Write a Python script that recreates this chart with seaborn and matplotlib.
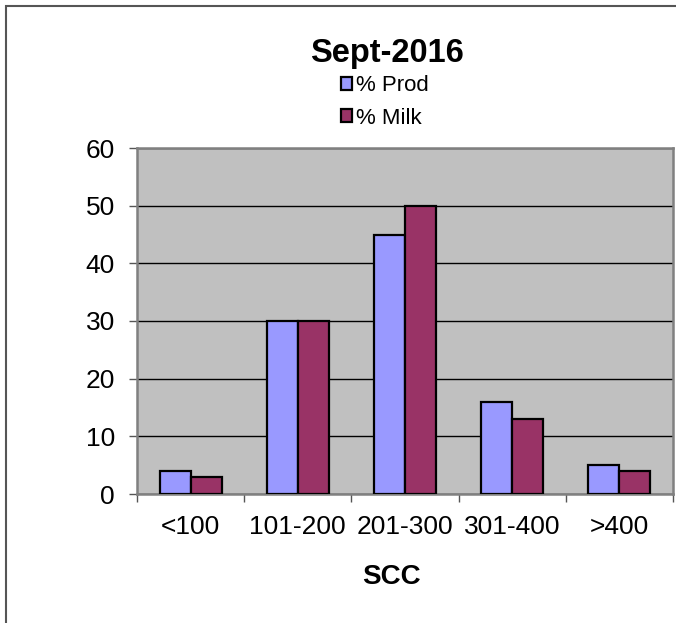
import pandas as pd
import matplotlib
matplotlib.use('Agg')
import matplotlib.pyplot as plt
from matplotlib.patches import Rectangle
from matplotlib.ticker import FixedLocator
import seaborn as sns

categorias = ['<100', '101-200', '201-300', '301-400', '>400']
prod = [4, 30, 45, 16, 5]
milk = [3, 30, 50, 13, 4]
series = ['% Prod', '% Milk']
colores = ['#9999FF', '#993366']

df = pd.DataFrame({
    'scc': categorias * 2,
    'valor': prod + milk,
    'serie': [series[0]] * len(prod) + [series[1]] * len(milk),
})

sns.set_style('white')
plt.rcParams['font.family'] = ['Liberation Sans', 'DejaVu Sans']
plt.rcParams['text.color'] = 'black'
plt.rcParams['xtick.color'] = 'black'
plt.rcParams['ytick.color'] = 'black'

fig = plt.figure(figsize=(6.76, 6.23), dpi=100)
ax = fig.add_axes([137 / 676, 1 - 494 / 623, 536 / 676, 346 / 623])

sns.barplot(data=df, x='scc', y='valor', hue='serie', palette=colores,
            width=0.58, saturation=1, edgecolor='black', linewidth=1.6,
            ax=ax, zorder=3)

ax.set_facecolor('#C0C0C0')
ax.set_ylim(0, 60)
ax.set_xlim(-0.5, len(categorias) - 0.5)
ax.set_yticks(range(0, 61, 10))
ax.yaxis.grid(True, color='black', linewidth=1)
ax.set_axisbelow(True)
for s in ax.spines.values():
    s.set_color('#808080')
    s.set_linewidth(1.8)
    s.set_visible(True)

ax.tick_params(axis='y', left=True, length=6, width=1, color='#555555',
               labelsize=19, labelcolor='black', pad=10)
ax.tick_params(axis='x', which='major', length=0, labelsize=19,
               labelcolor='black', pad=15)
ax.xaxis.set_minor_locator(FixedLocator([i - 0.5 for i in range(len(categorias) + 1)]))
ax.tick_params(axis='x', which='minor', bottom=True, length=6, width=1, color='#555555')
ax.set_xlabel('')
ax.set_ylabel('')

handles, labels = ax.get_legend_handles_labels()
ax.legend_.remove()
fig.legend(handles, labels, loc='center', bbox_to_anchor=(385 / 676, 1 - 102 / 623),
           frameon=False, fontsize=16, handlelength=0.5, handleheight=0.5,
           handletextpad=0.2, labelspacing=0.5, borderpad=0)

fig.text(387 / 676, 1 - 62 / 623, 'Sept-2016', ha='center', va='baseline',
         fontsize=23.5, fontweight='bold', color='black')
fig.text(391 / 676, 1 - 584 / 623, 'SCC', ha='center', va='baseline',
         fontsize=20, fontweight='bold', color='black')

# marco exterior del gráfico (recortado a la derecha y abajo)
fig.patches.append(Rectangle((6 / 676, -0.05), 1.0, 1.05 - 6 / 623,
                             transform=fig.transFigure, fill=False,
                             edgecolor='#555555', linewidth=1.5))

fig.savefig('out.png', dpi=100)
plt.close(fig)
